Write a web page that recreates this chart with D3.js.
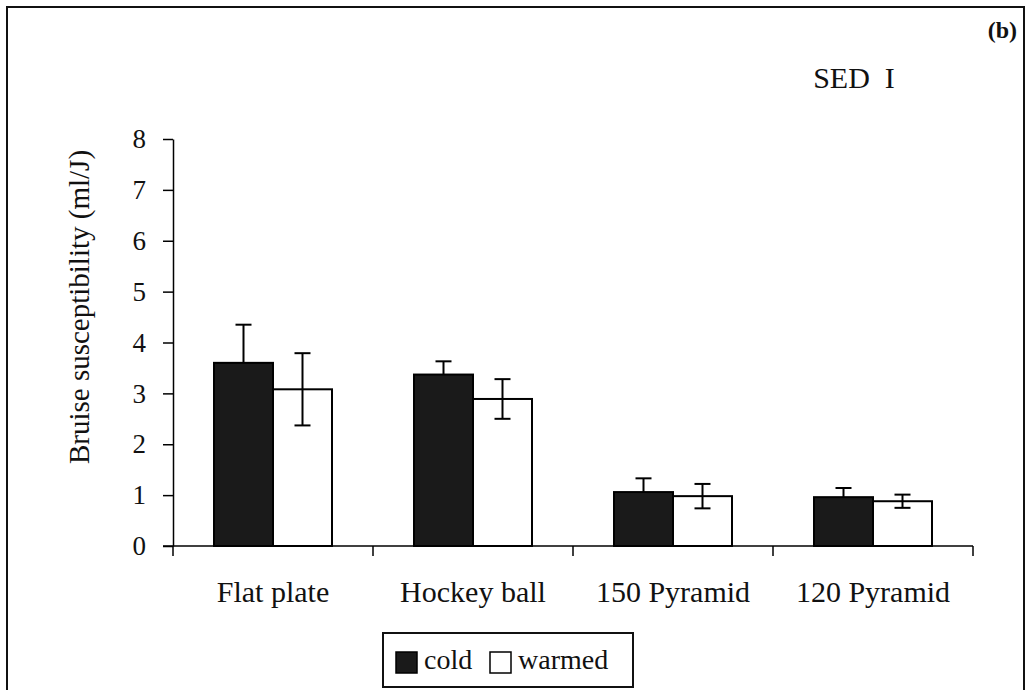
<!DOCTYPE html>
<html lang="en">
<head>
  <meta charset="UTF-8">
  <script src="https://d3js.org/d3.v7.min.js"></script>
  <style>
    body { margin: 0; background: #ffffff; }
    svg { display: block; }
    svg text { font-family: "Liberation Serif", "Times New Roman", Times, "DejaVu Serif", serif; fill: #111; }
    .axis path, .axis line { stroke: #000; stroke-width: 1.5px; }
    .axis text { font-size: 27px; }
  </style>
</head>
<body>
  <div id="chart"></div>
  <script>
    const categories = ["Flat plate", "Hockey ball", "150 Pyramid", "120 Pyramid"];
    const seriesNames = ["cold", "warmed"];
    const coldValues = [3.6, 3.37, 1.06, 0.96];
    const coldErrors = [0.75, 0.26, 0.27, 0.18];
    const warmedValues = [3.08, 2.89, 0.98, 0.88];
    const warmedErrors = [0.71, 0.39, 0.24, 0.13];
    const yTicks = [0, 1, 2, 3, 4, 5, 6, 7, 8];

    const width = 1030, height = 690;
    const margin = { left: 173, right: 57, top: 139, bottom: 144 };
    const innerW = width - margin.left - margin.right;
    const innerH = height - margin.top - margin.bottom;

    const svg = d3.select("#chart").append("svg")
      .attr("width", width)
      .attr("height", height);

    // outer frame (bottom edge runs off the page)
    svg.append("rect")
      .attr("x", 7).attr("y", 7)
      .attr("width", 1017).attr("height", 700)
      .attr("fill", "none")
      .attr("stroke", "#111")
      .attr("stroke-width", 2);

    const g = svg.append("g")
      .attr("transform", `translate(${margin.left},${margin.top})`);

    const x0 = d3.scaleBand().domain(categories).range([0, innerW]);
    const x1 = d3.scaleBand().domain(seriesNames).range([x0.bandwidth() * 0.205, x0.bandwidth() * 0.795]);
    const y = d3.scaleLinear().domain([0, 8]).range([innerH, 0]);

    const rows = categories.map((c, i) => ({
      cat: c,
      items: [
        { s: "cold", v: coldValues[i], e: coldErrors[i] },
        { s: "warmed", v: warmedValues[i], e: warmedErrors[i] }
      ]
    }));

    const fills = { cold: "#1a1a1a", warmed: "#ffffff" };

    const grp = g.selectAll(".cat").data(rows).enter().append("g")
      .attr("transform", d => `translate(${x0(d.cat)},0)`);

    grp.selectAll("rect").data(d => d.items).enter().append("rect")
      .attr("x", d => x1(d.s))
      .attr("y", d => y(d.v))
      .attr("width", x1.bandwidth())
      .attr("height", d => y(0) - y(d.v))
      .attr("fill", d => fills[d.s])
      .attr("stroke", "#000")
      .attr("stroke-width", 2);

    // error bars (lower half of the cold ones is hidden by the dark bar)
    const capW = 8;
    const eb = grp.selectAll(".err").data(d => d.items).enter().append("g").attr("class", "err");
    eb.append("line")
      .attr("x1", d => x1(d.s) + x1.bandwidth() / 2)
      .attr("x2", d => x1(d.s) + x1.bandwidth() / 2)
      .attr("y1", d => y(d.v + d.e))
      .attr("y2", d => y(d.s === "cold" ? d.v : d.v - d.e))
      .attr("stroke", "#000").attr("stroke-width", 2);
    eb.selectAll(".cap").data(d => (d.s === "cold" ? [d.v + d.e] : [d.v + d.e, d.v - d.e]).map(val => ({ s: d.s, val })))
      .enter().append("line")
      .attr("x1", d => x1(d.s) + x1.bandwidth() / 2 - capW)
      .attr("x2", d => x1(d.s) + x1.bandwidth() / 2 + capW)
      .attr("y1", d => y(d.val))
      .attr("y2", d => y(d.val))
      .attr("stroke", "#000").attr("stroke-width", 2);

    // axes
    g.append("g").attr("class", "axis")
      .call(d3.axisLeft(y).tickValues(yTicks).tickSize(10).tickPadding(17).tickSizeOuter(0))
      .attr("font-family", null);

    const xTickPos = d3.range(categories.length + 1).map(i => i * x0.bandwidth());
    const xa = g.append("g").attr("transform", `translate(0,${innerH})`);
    xa.append("line").attr("x1", -10).attr("x2", innerW).attr("y1", 0).attr("y2", 0)
      .attr("stroke", "#000").attr("stroke-width", 1.5);
    xa.selectAll(".xt").data(xTickPos).enter().append("line")
      .attr("x1", d => d).attr("x2", d => d).attr("y1", 0).attr("y2", 10)
      .attr("stroke", "#000").attr("stroke-width", 1.5);
    xa.selectAll(".xl").data(categories).enter().append("text")
      .attr("x", d => x0(d) + x0.bandwidth() / 2)
      .attr("y", 56)
      .attr("text-anchor", "middle")
      .style("font-size", "30px")
      .text(d => d);

    // y label
    svg.append("text")
      .attr("transform", "translate(89,307) rotate(-90)")
      .attr("text-anchor", "middle")
      .style("font-size", "29px")
      .text("Bruise susceptibility (ml/J)");

    svg.append("text")
      .attr("x", 854).attr("y", 88)
      .attr("text-anchor", "middle")
      .style("font-size", "30px")
      .style("white-space", "pre")
      .text("SED  I");

    svg.append("text")
      .attr("x", 1017).attr("y", 38)
      .attr("text-anchor", "end")
      .style("font-size", "24px")
      .style("font-weight", "bold")
      .text("(b)");

    // legend
    const lg = svg.append("g").attr("transform", "translate(383,633)");
    lg.append("rect").attr("width", 250).attr("height", 54)
      .attr("fill", "#fff").attr("stroke", "#111").attr("stroke-width", 2);
    const legendX = [13, 107];
    seriesNames.forEach((s, i) => {
      lg.append("rect")
        .attr("x", legendX[i]).attr("y", 19)
        .attr("width", 21).attr("height", 21)
        .attr("fill", fills[s]).attr("stroke", "#000").attr("stroke-width", 1.5);
      lg.append("text")
        .attr("x", legendX[i] + 28).attr("y", 36)
        .style("font-size", "28px")
        .text(s);
    });
  </script>
</body>
</html>
